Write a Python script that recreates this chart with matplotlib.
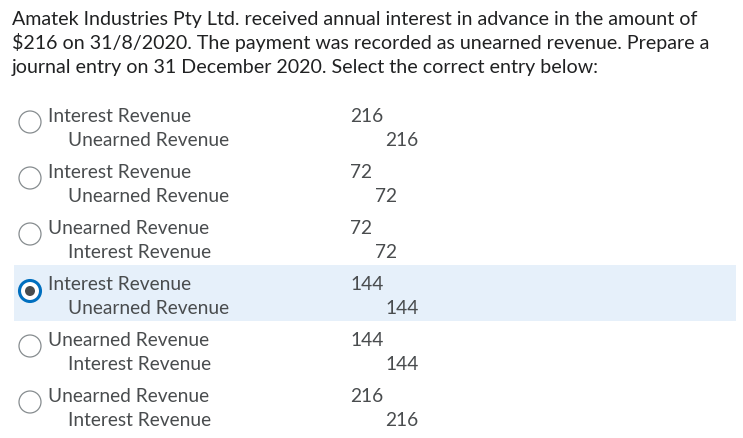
import matplotlib
matplotlib.use("Agg")
import matplotlib.pyplot as plt
from matplotlib.patches import Circle, Rectangle

plt.rcParams['font.family'] = ['Lato', 'DejaVu Sans']

# Pregunta y opciones
question_lines = [
    "Amatek Industries Pty Ltd. received annual interest in advance in the amount of",
    "$216 on 31/8/2020. The payment was recorded as unearned revenue. Prepare a",
    "journal entry on 31 December 2020. Select the correct entry below:",
]
debit_accounts = ["Interest Revenue", "Interest Revenue", "Unearned Revenue",
                  "Interest Revenue", "Unearned Revenue", "Unearned Revenue"]
credit_accounts = ["Unearned Revenue", "Unearned Revenue", "Interest Revenue",
                   "Unearned Revenue", "Interest Revenue", "Interest Revenue"]
amounts = [216, 72, 72, 144, 144, 216]
selected = 3

fig = plt.figure(figsize=(7.43, 4.39), dpi=100)
ax = fig.add_axes([0, 0, 1, 1])
ax.set_xlim(0, 743)
ax.set_ylim(439, 0)
ax.axis("off")

title_color = "#202122"
text_color = "#494c4e"

for i, line in enumerate(question_lines):
    ax.text(12, 19 + i * 24, line, fontsize=14.1, color=title_color,
            va="center", ha="left")

row0 = 115
row_step = 56
txt_dy = 1.5  # ajuste vertical del texto
for i in range(len(amounts)):
    y = row0 + i * row_step
    if i == selected:
        ax.add_patch(Rectangle((14, y - 17), 722, 56, facecolor="#e6f0fa",
                               edgecolor="none", zorder=0))
        ax.add_patch(Circle((30, y + 9), 10.5, facecolor="white",
                            edgecolor="#006fbf", linewidth=2.2, zorder=2))
        ax.add_patch(Circle((30, y + 9), 5, facecolor="#494c4e",
                            edgecolor="none", zorder=3))
    else:
        ax.add_patch(Circle((30, y + 8), 11, facecolor="white",
                            edgecolor="#868c8f", linewidth=0.9, zorder=2))
    ax.text(48, y + txt_dy, debit_accounts[i], fontsize=13.8, color=text_color,
            va="center", ha="left")
    ax.text(68, y + 24 + txt_dy, credit_accounts[i], fontsize=13.8,
            color=text_color, va="center", ha="left")
    amt = str(amounts[i])
    ax.text(350, y + txt_dy, amt, fontsize=13.8, color=text_color,
            va="center", ha="left")
    ax.text(355 + 10 * len(amt), y + 24 + txt_dy, amt, fontsize=13.8,
            color=text_color, va="center", ha="left")

fig.savefig("out.png", dpi=100, facecolor="white")
